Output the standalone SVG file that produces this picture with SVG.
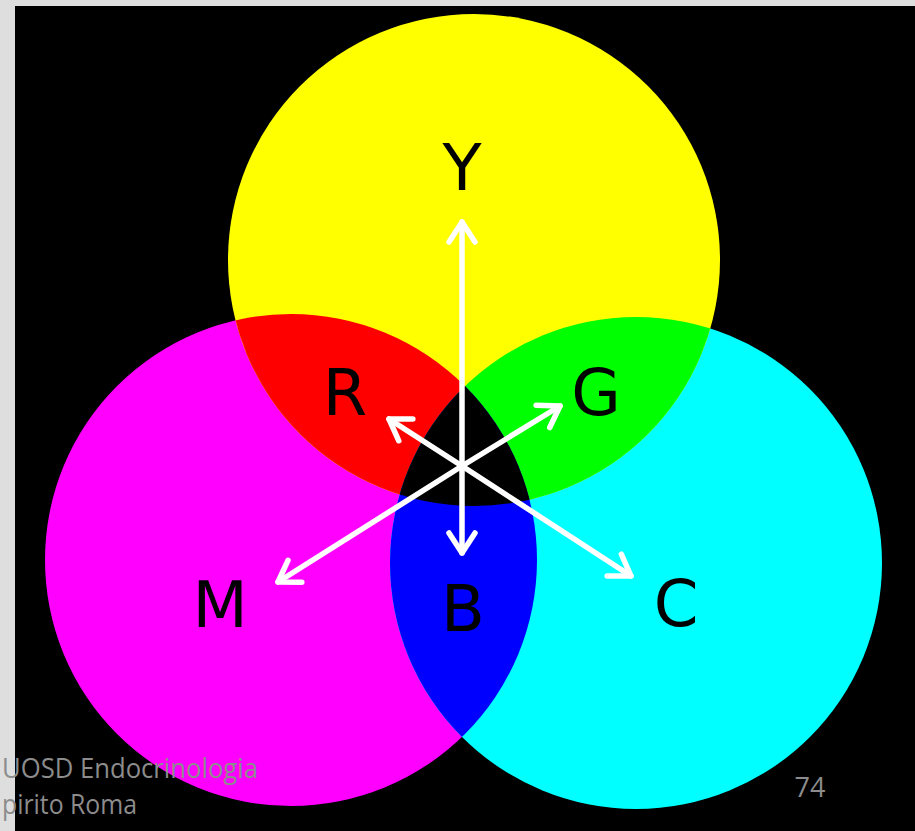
<svg xmlns="http://www.w3.org/2000/svg" width="915" height="831" viewBox="0 0 915 831">
  <style>
    .lbl { font-family: "DejaVu Sans", Verdana, sans-serif; font-size: 64px; fill: #000; text-anchor: middle; }
    .foot { font-family: "Open Sans", "Liberation Sans", sans-serif; font-size: 27px; fill: #8c8c8c; }
    .arr { stroke: #fff; stroke-width: 5.5; fill: none; stroke-linecap: round; marker-end: url(#head); }
  </style>
  <defs>
    <marker id="head" markerUnits="userSpaceOnUse" markerWidth="40" markerHeight="40" viewBox="-30 -20 40 40" refX="0" refY="0" orient="auto">
      <path d="M -20 -13 L 0 0 L -20 13" stroke="#fff" stroke-width="5.5" fill="none" stroke-linecap="round" stroke-linejoin="round"/>
    </marker>
    <clipPath id="clipM"><circle cx="291" cy="560" r="246"/></clipPath>
    <clipPath id="clipC"><circle cx="636" cy="563" r="246"/></clipPath>
  </defs>
  <rect x="0" y="0" width="915" height="831" fill="#dedede"/>
  <rect x="15" y="6" width="900" height="825" fill="#000"/>

  <g id="circles">
    <circle id="magenta" cx="291" cy="560" r="246" fill="#ff00ff"/>
    <circle id="cyan" cx="636" cy="563" r="246" fill="#00ffff"/>
    <circle id="yellow" cx="474" cy="260" r="246" fill="#ffff00"/>
    <circle id="red" cx="474" cy="260" r="246" fill="#ff0000" clip-path="url(#clipM)"/>
    <circle id="green" cx="474" cy="260" r="246" fill="#00ff00" clip-path="url(#clipC)"/>
    <circle id="blue" cx="291" cy="560" r="246" fill="#0000ff" clip-path="url(#clipC)"/>
    <g clip-path="url(#clipM)">
      <circle id="black" cx="474" cy="260" r="246" fill="#000" clip-path="url(#clipC)"/>
    </g>
  </g>

  <g id="connectors">
    <line class="arr" x1="462" y1="466" x2="462" y2="222"/>
    <line class="arr" x1="462" y1="466" x2="462" y2="553"/>
    <line class="arr" x1="462" y1="466" x2="389" y2="419"/>
    <line class="arr" x1="462" y1="466" x2="560" y2="406"/>
    <line class="arr" x1="462" y1="466" x2="278" y2="582"/>
    <line class="arr" x1="462" y1="466" x2="631" y2="576"/>
  </g>

  <g id="label-Y"><text class="lbl" x="462" y="190">Y</text></g>
  <g id="label-R"><text class="lbl" x="345" y="415">R</text></g>
  <g id="label-G"><text class="lbl" x="596" y="415">G</text></g>
  <g id="label-M"><text class="lbl" x="220" y="627">M</text></g>
  <g id="label-B"><text class="lbl" x="463" y="631">B</text></g>
  <g id="label-C"><text class="lbl" x="676" y="626">C</text></g>

  <g id="footer">
    <text class="foot" x="2" y="778" textLength="256" lengthAdjust="spacingAndGlyphs">UOSD Endocrinologia</text>
    <text class="foot" x="2" y="814" textLength="135" lengthAdjust="spacingAndGlyphs">pirito Roma</text>
    <text class="foot" x="810" y="797" text-anchor="middle">74</text>
  </g>
</svg>
